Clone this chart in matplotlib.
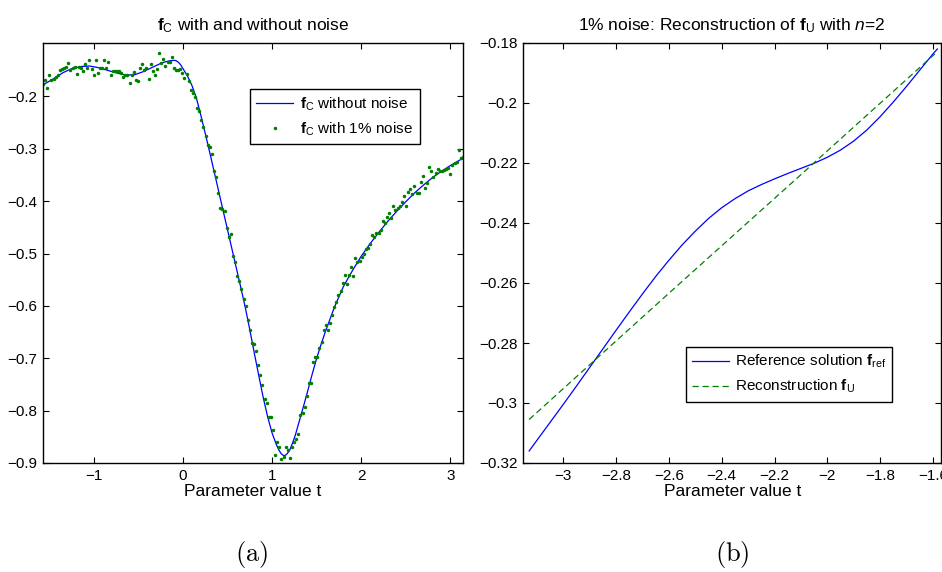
import numpy as np
import matplotlib
matplotlib.use("Agg")
import matplotlib.pyplot as plt
from matplotlib.ticker import FuncFormatter

plt.rcParams["font.family"] = ["Liberation Sans", "DejaVu Sans"]
plt.rcParams["mathtext.fontset"] = "custom"
plt.rcParams["mathtext.rm"] = "Liberation Sans"
plt.rcParams["mathtext.bf"] = "Liberation Sans:bold"
plt.rcParams["mathtext.it"] = "Liberation Sans:italic"

BLUE = (0, 0, 1)
GREEN = (0, 0.5, 0)

# (a) f_C ohne Rauschen
t_clean = [-1.5708, -1.45, -1.35, -1.25, -1.15, -1.05, -0.95, -0.85, -0.75, -0.65,
           -0.55, -0.45, -0.35, -0.25, -0.20, -0.15, -0.10, -0.075, -0.05, -0.025,
           0.00, 0.05, 0.10, 0.15, 0.20, 0.25, 0.30, 0.35, 0.40, 0.45,
           0.50, 0.55, 0.60, 0.65, 0.70, 0.75, 0.80, 0.85, 0.90, 0.95,
           1.00, 1.05, 1.075, 1.10, 1.13, 1.15, 1.17, 1.195, 1.22, 1.26,
           1.30, 1.35, 1.40, 1.45, 1.50, 1.55, 1.60, 1.70, 1.80, 1.90,
           2.00, 2.10, 2.20, 2.30, 2.40, 2.50, 2.60, 2.70, 2.80, 2.90,
           3.00, 3.1416]
f_clean = [-0.178, -0.166, -0.155, -0.147, -0.143, -0.142, -0.145, -0.150, -0.155, -0.159,
           -0.159, -0.153, -0.145, -0.137, -0.134, -0.132, -0.131, -0.132, -0.135, -0.140,
           -0.147, -0.161, -0.179, -0.203, -0.236, -0.271, -0.307, -0.344, -0.381, -0.418,
           -0.455, -0.492, -0.529, -0.566, -0.604, -0.646, -0.690, -0.733, -0.775, -0.812,
           -0.843, -0.866, -0.875, -0.882, -0.886, -0.885, -0.882, -0.876, -0.866, -0.847,
           -0.823, -0.793, -0.762, -0.730, -0.700, -0.673, -0.648, -0.602, -0.563, -0.533,
           -0.505, -0.481, -0.459, -0.438, -0.419, -0.401, -0.384, -0.369, -0.355, -0.343,
           -0.332, -0.318]

# (a) f_C mit 1% Rauschen, 200 Abtastwerte auf [-pi/2, pi]
t_noisy = np.linspace(-np.pi / 2, np.pi, 200)
f_noisy = [
    -0.176, -0.168, -0.183, -0.160, -0.169, -0.167, -0.163, -0.160, -0.149, -0.147,
    -0.145, -0.143, -0.136, -0.149, -0.145, -0.143, -0.157, -0.143, -0.146, -0.151,
    -0.138, -0.146, -0.130, -0.147, -0.160, -0.130, -0.155, -0.146, -0.146, -0.130,
    -0.146, -0.134, -0.160, -0.151, -0.151, -0.151, -0.152, -0.155, -0.162, -0.159,
    -0.159, -0.174, -0.159, -0.153, -0.168, -0.170, -0.146, -0.139, -0.150, -0.145,
    -0.167, -0.139, -0.152, -0.159, -0.147, -0.118, -0.136, -0.128, -0.141, -0.134,
    -0.134, -0.125, -0.146, -0.149, -0.150, -0.147, -0.155, -0.165, -0.157, -0.171,
    -0.187, -0.194, -0.202, -0.222, -0.228, -0.245, -0.259, -0.276, -0.292, -0.297,
    -0.310, -0.343, -0.354, -0.384, -0.413, -0.415, -0.418, -0.452, -0.469, -0.463,
    -0.505, -0.516, -0.543, -0.552, -0.568, -0.587, -0.600, -0.626, -0.646, -0.670,
    -0.673, -0.686, -0.712, -0.732, -0.751, -0.777, -0.785, -0.812, -0.812, -0.837,
    -0.885, -0.860, -0.869, -0.892, -0.888, -0.870, -0.876, -0.890, -0.869, -0.860,
    -0.854, -0.844, -0.809, -0.805, -0.793, -0.772, -0.747, -0.747, -0.707, -0.697,
    -0.697, -0.681, -0.668, -0.646, -0.637, -0.646, -0.632, -0.617, -0.602, -0.592,
    -0.579, -0.571, -0.557, -0.541, -0.558, -0.541, -0.525, -0.543, -0.508, -0.517,
    -0.514, -0.506, -0.500, -0.492, -0.490, -0.482, -0.465, -0.468, -0.460, -0.461,
    -0.455, -0.438, -0.441, -0.431, -0.423, -0.433, -0.409, -0.417, -0.413, -0.410,
    -0.401, -0.391, -0.409, -0.382, -0.377, -0.386, -0.372, -0.385, -0.384, -0.364,
    -0.352, -0.374, -0.366, -0.335, -0.343, -0.353, -0.347, -0.339, -0.342, -0.343,
    -0.340, -0.339, -0.337, -0.348, -0.331, -0.327, -0.326, -0.302, -0.318, -0.316,
]

# (b) Referenzloesung und Rekonstruktion
t_ref = [-3.13, -3.05, -3.00, -2.95, -2.90, -2.85, -2.80, -2.75, -2.70, -2.65,
         -2.60, -2.55, -2.50, -2.45, -2.40, -2.35, -2.30, -2.25, -2.20, -2.15,
         -2.10, -2.05, -2.00, -1.95, -1.90, -1.85, -1.80, -1.75, -1.70, -1.65,
         -1.60, -1.583]
f_ref = [-0.3160, -0.3064, -0.3004, -0.2943, -0.2881, -0.2819, -0.2757, -0.2696, -0.2636, -0.2578,
         -0.2524, -0.2473, -0.2427, -0.2385, -0.2349, -0.2319, -0.2293, -0.2272, -0.2253, -0.2235,
         -0.2218, -0.2201, -0.2181, -0.2157, -0.2127, -0.2090, -0.2046, -0.1997, -0.1945, -0.1891,
         -0.1837, -0.1820]
t_rec = [-3.13, -2.6, -2.1, -1.583]
f_rec = [-0.3055, -0.2634, -0.2239, -0.1829]


def fmt(v, _):
    return f"{v:g}".replace("-", "\u2212")


def style_axes(ax):
    ax.tick_params(direction="in", top=True, right=True, length=4, width=0.8,
                   labelsize=11, pad=4)
    for sp in ax.spines.values():
        sp.set_linewidth(1.0)
    ax.xaxis.set_major_formatter(FuncFormatter(fmt))
    ax.yaxis.set_major_formatter(FuncFormatter(fmt))


fig = plt.figure(figsize=(9.42, 5.72), dpi=100)
ax1 = fig.add_axes([43 / 942, 1 - 463 / 572, 420 / 942, 420 / 572])
ax2 = fig.add_axes([523.3 / 942, 1 - 463 / 572, 417.7 / 942, 420 / 572])

# --- (a)
ax1.plot(t_clean, f_clean, color=BLUE, lw=0.9, label=r"$\mathbf{f}_\mathrm{C}$ without noise")
ax1.plot(t_noisy, f_noisy, ".", color=GREEN, ms=3, label=r"$\mathbf{f}_\mathrm{C}$ with 1% noise")
ax1.set_xlim(-np.pi / 2, np.pi)
ax1.set_ylim(-0.9, -0.098)
ax1.set_xticks([-1, 0, 1, 2, 3])
ax1.set_yticks([-0.9, -0.8, -0.7, -0.6, -0.5, -0.4, -0.3, -0.2])
style_axes(ax1)
ax1.set_xlabel("Parameter value t", fontsize=12.5, labelpad=1)
ax1.set_title(r"$\mathbf{f}_\mathrm{C}$ with and without noise", fontsize=12.5, pad=9)
leg1 = ax1.legend(loc="upper left", bbox_to_anchor=(0.493, 0.890), fontsize=11,
                  frameon=True, fancybox=False, framealpha=1, edgecolor="black",
                  handlelength=2.4, numpoints=1, borderpad=0.4, labelspacing=0.5,
                  handletextpad=0.5, borderaxespad=0)
leg1.get_frame().set_linewidth(1.0)

# --- (b)
ax2.plot(t_ref, f_ref, color=BLUE, lw=0.9, label=r"Reference solution $\mathbf{f}_\mathrm{ref}$")
ax2.plot(t_rec, f_rec, color=GREEN, lw=0.9, dashes=(5, 3), label=r"Reconstruction $\mathbf{f}_\mathrm{U}$")
ax2.set_xlim(-3.152, -1.569)
ax2.set_ylim(-0.32, -0.18)
ax2.set_xticks([-3, -2.8, -2.6, -2.4, -2.2, -2.0, -1.8, -1.6])
ax2.set_yticks([-0.32, -0.30, -0.28, -0.26, -0.24, -0.22, -0.20, -0.18])
style_axes(ax2)
ax2.set_xlabel("Parameter value t", fontsize=12.5, labelpad=1)
ax2.set_title(r"1% noise: Reconstruction of $\mathbf{f}_\mathrm{U}$ with $n$=2", fontsize=12.5, pad=9)
leg2 = ax2.legend(loc="upper left", bbox_to_anchor=(0.3895, 0.2764), fontsize=11,
                  frameon=True, fancybox=False, framealpha=1, edgecolor="black",
                  handlelength=2.4, borderpad=0.4, labelspacing=0.5,
                  handletextpad=0.4, borderaxespad=0)
leg2.get_frame().set_linewidth(1.0)

fig.text(252 / 942, 1 - 555 / 572, r"$\mathrm{(a)}$", math_fontfamily="cm",
         fontsize=19, ha="center", va="center")
fig.text(732 / 942, 1 - 555 / 572, r"$\mathrm{(b)}$", math_fontfamily="cm",
         fontsize=19, ha="center", va="center")

fig.savefig("out.png", dpi=100, facecolor="white")
